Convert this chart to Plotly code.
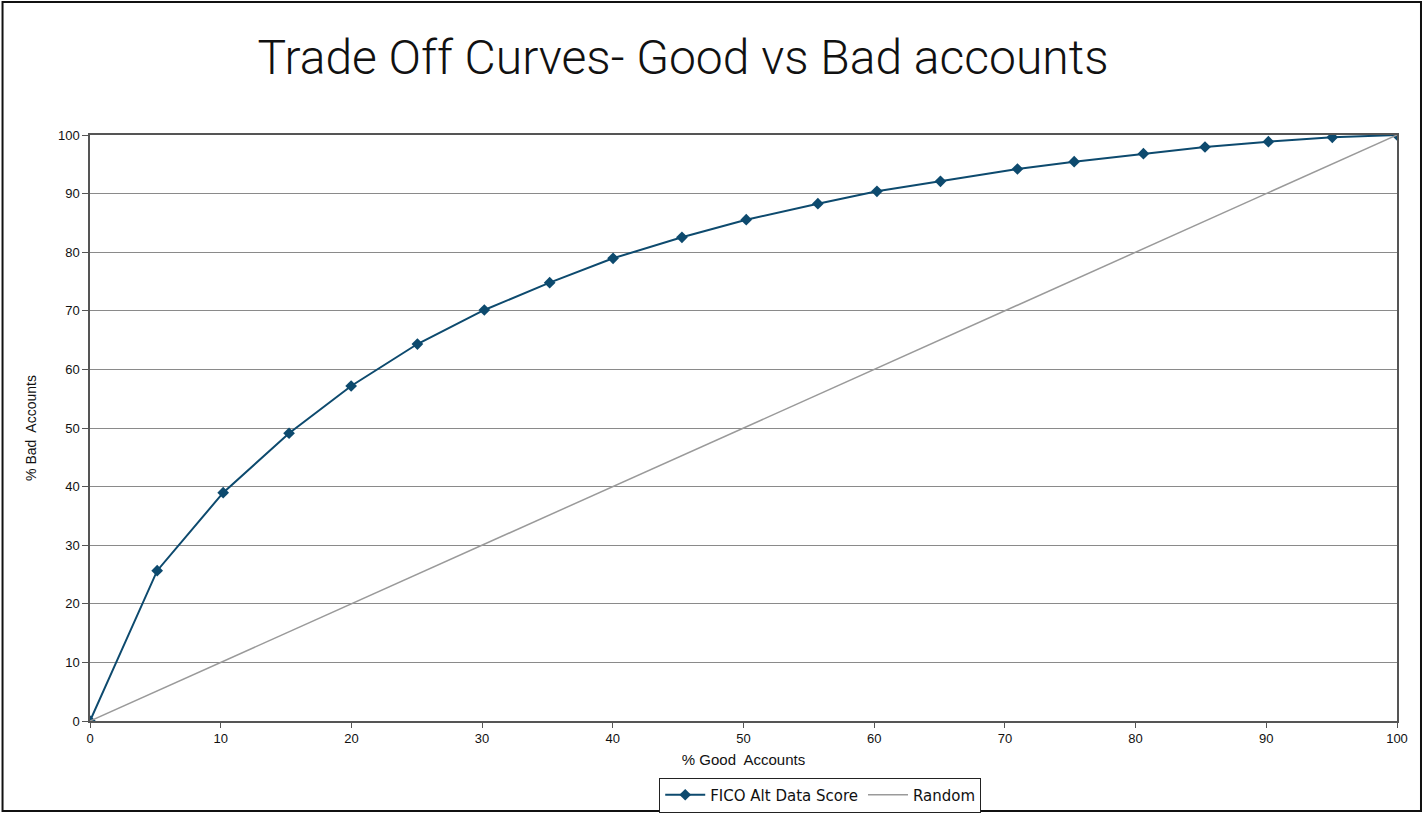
import plotly.graph_objects as go

good_pct = [0, 5.14, 10.19, 15.23, 19.98, 25.05, 30.17, 35.17, 40.02, 45.29, 50.21,
            55.69, 60.21, 65.07, 70.96, 75.30, 80.60, 85.31, 90.16, 95.05, 100]
bad_pct = [0, 25.65, 38.96, 49.10, 57.17, 64.33, 70.14, 74.80, 78.96, 82.54, 85.55,
           88.28, 90.39, 92.10, 94.20, 95.44, 96.81, 97.95, 98.86, 99.61, 100]
random_x = [0, 10, 20, 30, 40, 50, 60, 70, 80, 90, 100]
random_y = [0, 10, 20, 30, 40, 50, 60, 70, 80, 90, 100]
tick_vals = [0, 10, 20, 30, 40, 50, 60, 70, 80, 90, 100]

fig = go.Figure()
fig.add_trace(go.Scatter(
    x=good_pct, y=bad_pct, mode="lines+markers", name="FICO Alt Data Score",
    line=dict(color="#0d4a6e", width=2),
    marker=dict(symbol="diamond", size=9, color="#0d4a6e"),
))
fig.add_trace(go.Scatter(
    x=random_x, y=random_y, mode="lines", name="Random",
    line=dict(color="#9a9a9a", width=1.5),
))

W, H = 1427, 814
L, R, T, B = 89.5, 1397, 135, 721
pw, ph = R - L, B - T

def px_x(v):
    return (v - L) / pw

def px_y(v):
    return (B - v) / ph

fig.update_layout(
    width=W, height=H,
    margin=dict(l=L, r=W - R, t=T, b=H - B, autoexpand=False),
    paper_bgcolor="white", plot_bgcolor="white",
    font=dict(family="Liberation Sans, Arial, sans-serif", size=13, color="#222"),
    title=dict(text="Trade Off Curves- Good vs Bad accounts",
               font=dict(family="Roboto", size=48, color="#111", weight=300),
               xref="container", x=683 / W, xanchor="center",
               yref="container", y=1 - 57 / H, yanchor="middle"),
    showlegend=True,
    legend=dict(orientation="h", x=px_x(820), xanchor="center",
                yref="container", y=1 - 795 / H, yanchor="middle",
                bordercolor="#222", borderwidth=1, bgcolor="white",
                font=dict(family="DejaVu Sans, sans-serif", size=15, color="#111"),
                itemwidth=40, tracegroupgap=0),
    xaxis=dict(range=[0, 100], tickvals=tick_vals, showgrid=False, zeroline=False,
               showline=True, linecolor="#555", linewidth=1.5, mirror=True,
               ticks="outside", ticklen=5, tickcolor="#555",
               tickfont=dict(size=13, color="#111"),
               title=dict(text="% Good  Accounts", font=dict(size=15, color="#111"), standoff=9)),
    yaxis=dict(range=[0, 100], tickvals=tick_vals, showgrid=True, gridcolor="#8a8a8a", gridwidth=1,
               zeroline=False, showline=True, linecolor="#555", linewidth=1.5, mirror=True,
               ticks="outside", ticklen=6, tickcolor="#555",
               tickfont=dict(size=13, color="#111"),
               title=dict(text="% Bad  Accounts", font=dict(size=14, color="#111"), standoff=18)),
    shapes=[dict(type="rect", xref="paper", yref="paper",
                 x0=px_x(2), x1=px_x(1421), y0=px_y(2), y1=px_y(811),
                 line=dict(color="#111", width=2), fillcolor="rgba(0,0,0,0)", layer="below")],
)

fig.write_html("out.html")
